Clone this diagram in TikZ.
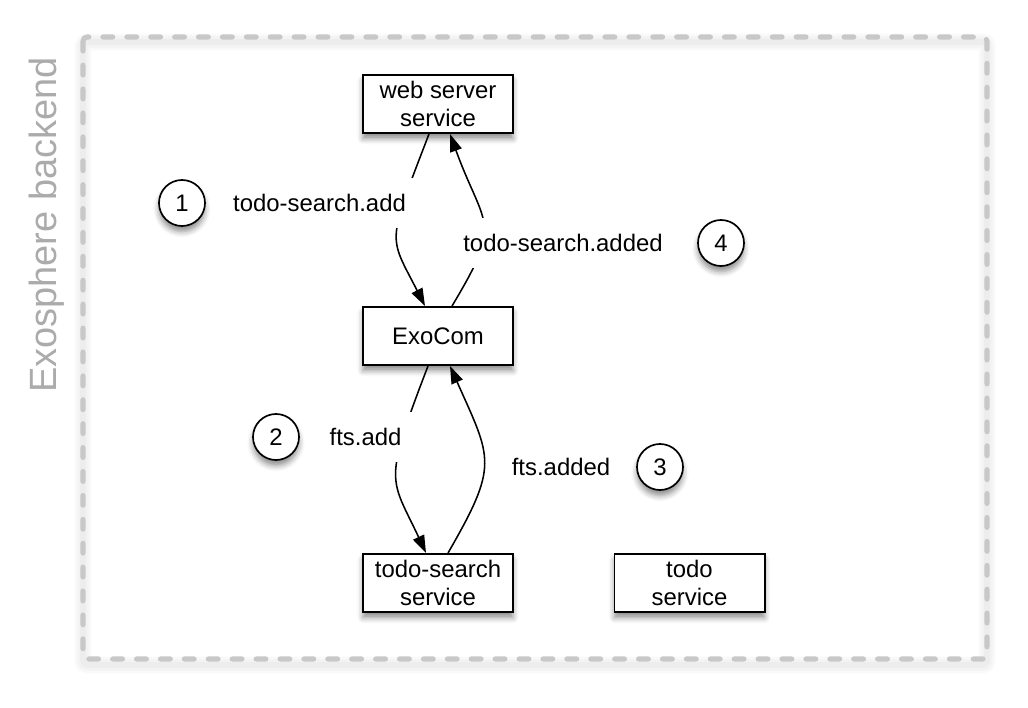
\documentclass[tikz,border=0pt]{standalone}
\usepackage{fontspec}
\setmainfont{Liberation Sans}
\usetikzlibrary{calc,arrows.meta,shadows,shadows.blur}
\definecolor{frameC}{HTML}{C8C8C8}
\definecolor{titleC}{HTML}{ABABAB}

\begin{document}
\begin{tikzpicture}[x=0.025cm,y=0.025cm,
  svcbox/.style={draw,line width=1.4pt,fill=white,minimum width=3.75cm,minimum height=1.45cm,
    align=center,inner sep=0pt,font=\fontsize{17}{19.5}\selectfont,
    blur shadow={shadow xshift=0pt,shadow yshift=-4pt,shadow blur radius=4pt,shadow opacity=45}},
  stepnum/.style={draw,circle,line width=1.2pt,fill=white,minimum size=1.15cm,inner sep=0pt,
    font=\fontsize{17}{19.5}\selectfont,
    blur shadow={shadow xshift=0pt,shadow yshift=-4pt,shadow blur radius=4pt,shadow opacity=45}},
  msglabel/.style={fill=white,inner xsep=8pt,inner ysep=0pt,minimum height=1.25cm,
    font=\fontsize{17}{19.5}\selectfont},
  msg/.style={line width=1.1pt,-{Triangle[length=12.5pt,width=8.5pt]}}]
  \useasboundingbox (0,0) rectangle (1028,-708);

  % backend frame (soft shadow, then dashes)
  \foreach \w in {4,8,12}{
    \draw[black,opacity=0.025,line width=\w pt,rounded corners=3pt] (83,-42) rectangle (987,-665);
  }
  \draw[frameC,line width=3.6pt,dash pattern=on 7pt off 10pt,line cap=round,rounded corners=3pt]
    (83,-37) rectangle (987,-659);
  \node[titleC,rotate=90,font=\fontsize{27}{32}\selectfont] (title) at (47,-225) {Exosphere backend};

  % services
  \node[svcbox] (web) at (438,-104) {web server\\service};
  \node[svcbox] (exo) at (438,-336) {ExoCom};
  \node[svcbox] (srch) at (438,-583) {todo-search\\service};
  \node[svcbox] (todo) at (689.5,-583) {todo\\service};

  % messages
  \draw[msg] ($(web.south)+(-9,0)$) to[out=249,in=117,out distance=3cm,in distance=2cm] ($(exo.north)+(-13,0)$);
  \draw[msg] ($(exo.north)+(14,0)$) to[out=59,in=-70,looseness=1.5] ($(web.south)+(12,0)$);
  \draw[msg] ($(exo.south)+(-10,0)$) to[out=249,in=115,out distance=3.2cm,in distance=2.1cm] ($(srch.north)+(-12,0)$);
  \draw[msg] ($(srch.north)+(10,0)$) to[out=60,in=-66,looseness=1.4] ($(exo.south)+(12,0)$);

  \node[msglabel] (addlbl) at (319.5,-203) {todo-search.add};
  \node[msglabel] (addedlbl) at (563,-243) {todo-search.added};
  \node[msglabel] (ftsaddlbl) at (365.5,-437) {fts.add};
  \node[msglabel] (ftsaddedlbl) at (561,-467) {fts.added};

  % step numbers
  \node[stepnum] (s1) at (182,-203) {1};
  \node[stepnum] (s2) at (276,-437) {2};
  \node[stepnum] (s3) at (660,-467) {3};
  \node[stepnum] (s4) at (721,-243) {4};
\end{tikzpicture}
\end{document}
